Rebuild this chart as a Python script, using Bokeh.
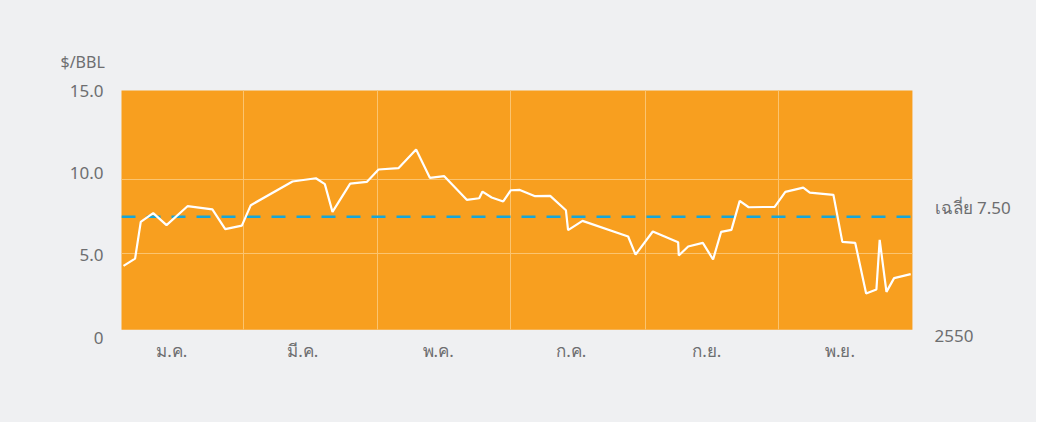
from bokeh.plotting import figure
from bokeh.models import (Range1d, LinearAxis, FixedTicker, ColumnDataSource, Title)
from bokeh.embed import file_html
from bokeh.resources import INLINE

# ---------------- data ----------------
# day of year 2550 (2007) and value in $/BBL
days = [3.9, 9.2, 11.8, 17.5, 23.6, 33.2, 44.6, 50.5, 58.1, 62.2, 81.3, 92.0, 96.1, 99.6,
        107.7, 115.3, 120.7, 129.8, 137.9, 144.2, 150.8, 161.1, 166.8, 168.3, 172.5, 177.8,
        181.3, 185.4, 192.4, 199.3, 206.5, 207.5, 214.1, 235.0, 238.4, 246.3, 257.9, 258.2,
        262.5, 269.2, 273.9, 277.6, 282.3, 286.1, 290.2, 302.1, 307.0, 315.2, 318.2, 329.0,
        333.1, 339.0, 344.0, 348.7, 350.2, 353.3, 356.8, 364.4]
prices = [4.19, 4.68, 7.16, 7.75, 6.94, 8.22, 8.00, 6.67, 6.91, 8.29, 9.89, 10.11, 9.71, 7.84,
          9.75, 9.86, 10.70, 10.79, 12.05, 10.14, 10.25, 8.65, 8.76, 9.21, 8.81, 8.54,
          9.30, 9.32, 8.90, 8.92, 7.95, 6.60, 7.23, 6.17, 4.95, 6.51, 5.79, 4.89,
          5.50, 5.74, 4.62, 6.49, 6.62, 8.58, 8.15, 8.18, 9.19, 9.48, 9.14, 8.99,
          5.81, 5.74, 2.32, 2.59, 5.95, 2.43, 3.36, 3.63]
average = 7.50
month_labels = ["ม.ค.", "มี.ค.", "พ.ค.", "ก.ค.", "ก.ย.", "พ.ย."]
y_ticks = [0, 5, 10, 15]
y_tick_labels = ["0", "5.0", "10.0", "15.0"]
y_grid = [5, 10]
unit_label = "$/BBL"
avg_label = "เฉลี่ย 7.50"
year_label = "2550"

# ---------------- layout / style ----------------
month_label_days = [26, 86, 148, 209, 271, 332]
grid_days = [59, 120, 181, 243, 304]      # 1 Mar, 1 May, 1 Jul, 1 Sep, 1 Nov
AREA_X = (0, 365.2)                       # orange plot area (days)
AREA_Y = (-0.13, 17)                      # orange plot area (value)
BG = "#eff0f2"
ORANGE = "#f89f1f"
GRID = "#fbc46f"
TXT = "#6d6e70"
DASH = "#17a6d8"
FONT = "Noto Sans"

p = figure(width=1036, height=422, output_backend="svg", toolbar_location=None,
           x_range=Range1d(2.98, 372.1), y_range=Range1d(-0.653, 16.04),
           y_axis_location=None, min_border_left=121, min_border_right=109,
           min_border_top=90, min_border_bottom=85)
p.background_fill_color = BG
p.border_fill_color = BG
p.outline_line_color = None
p.styles = {"background-color": BG}

# orange plot area
p.quad(left=[AREA_X[0]], right=[AREA_X[1]], bottom=[AREA_Y[0]], top=[AREA_Y[1]],
       fill_color=ORANGE, line_color=None, level="image")

p.extra_y_ranges = {"lab": Range1d(0, 15.06), "rlab": Range1d(-0.117, 14.35)}

# left value axis
yax = LinearAxis(y_range_name="lab", ticker=FixedTicker(ticks=y_ticks),
                 major_label_overrides={t: s for t, s in zip(y_ticks, y_tick_labels)})
yax.axis_line_color = None
yax.major_tick_line_color = None
yax.minor_tick_line_color = None
yax.major_label_text_font = FONT
yax.major_label_text_font_size = "17px"
yax.major_label_text_color = TXT
yax.major_label_standoff = 12
p.add_layout(yax, "left")

# right side texts (average and year)
rax = LinearAxis(y_range_name="rlab", ticker=FixedTicker(ticks=[0, average]),
                 major_label_overrides={0: year_label, average: avg_label})
rax.axis_line_color = None
rax.major_tick_line_color = None
rax.minor_tick_line_color = None
rax.major_label_text_font = FONT
rax.major_label_text_font_size = "17px"
rax.major_label_text_color = TXT
rax.major_label_standoff = 1
p.add_layout(rax, "right")

# month axis
xax = p.xaxis[0]
xax.ticker = FixedTicker(ticks=month_label_days)
xax.major_label_overrides = {d: m for d, m in zip(month_label_days, month_labels)}
xax.axis_line_color = None
xax.major_tick_line_color = None
xax.minor_tick_line_color = None
xax.major_label_text_font = FONT
xax.major_label_text_font_size = "17px"
xax.major_label_text_color = TXT
xax.major_label_standoff = -5

p.xgrid.ticker = FixedTicker(ticks=grid_days)
p.xgrid.grid_line_color = GRID
p.ygrid.ticker = FixedTicker(ticks=y_grid)
p.ygrid.grid_line_color = GRID
try:
    p.xgrid.cross_bounds = AREA_Y
    p.ygrid.cross_bounds = AREA_X
except Exception:
    pass

# average line
p.line(x=[p.x_range.start, AREA_X[1]], y=[average, average], line_color=DASH,
       line_width=2.5, line_dash="14 11")

src = ColumnDataSource(dict(x=days, y=prices))
p.line("x", "y", source=src, line_color="white", line_width=2.2)

p.add_layout(Title(text=unit_label, text_font=FONT, text_font_size="16px", text_color=TXT,
                   text_font_style="normal", align="left", offset=-61, standoff=36), "above")

html = file_html(p, INLINE)
html = html.replace("<body>", '<body style="background:%s">' % BG, 1)
open("out.html", "w").write(html)
